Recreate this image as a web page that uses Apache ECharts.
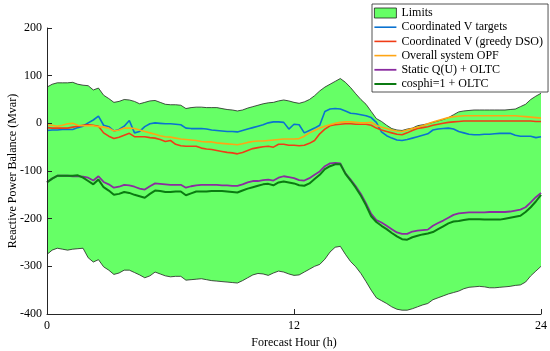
<!DOCTYPE html>
<html>
<head>
<meta charset="utf-8">
<script src="https://cdn.jsdelivr.net/npm/echarts@6/dist/echarts.min.js"></script>
<style>html,body{margin:0;padding:0;background:#fff}#c{width:550px;height:351px}</style>
</head>
<body>
<div id="c"></div>
<script>
// 15-minute sampling grid (hours 0..24)
const hours = Array.from({length: 97}, (_, i) => i * 0.25);

const limitUpper = [76,82,85,85,85,86,82,80,79,70,74,59,52,44,46,50,49,46,41,44,47,48,44,40,39,39,38,31,33,34,34,33,33,33,31,29,28,26,28,32,35,38,41,43,44,47,49,47,44,42,45,50,58,68,76,82,88,94,86,75,62,50,40,25,10,4,-4,-11,-14,-15,-12,-10,-5,-3,-1,2,5,8,12,18,24,26,27,28,28,28,28,28,28,28,29,30,35,40,50,57,63];
const limitLower = [-275,-266,-262,-264,-266,-264,-263,-262,-282,-291,-286,-301,-308,-317,-314,-308,-308,-313,-318,-324,-320,-312,-316,-320,-322,-321,-321,-329,-328,-327,-326,-328,-330,-331,-332,-333,-334,-335,-330,-324,-318,-315,-316,-319,-314,-310,-312,-316,-319,-318,-312,-306,-300,-296,-285,-270,-260,-258,-275,-290,-301,-315,-332,-350,-366,-372,-378,-385,-390,-392,-392,-389,-385,-381,-378,-370,-366,-362,-358,-355,-352,-347,-344,-343,-342,-343,-345,-345,-344,-343,-342,-340,-339,-333,-320,-310,-300];
const coordTargets = [-15,-14,-14,-13,-13,-13,-9,-6,1,7,15,-4,-7,-16,-13,-6,6,-20,-17,-7,-1,1,0,-1,-1,-2,-3,-10,-11,-11,-11,-12,-14,-15,-16,-17,-17,-18,-15,-12,-9,-6,-3,1,3,3,2,-12,-2,-3,-20,-15,-10,-4,25,30,31,30,26,21,20,18,16,12,2,-18,-26,-31,-35,-36,-34,-31,-28,-25,-22,-14,-12,-11,-10,-12,-17,-20,-23,-24,-24,-23,-23,-22,-21,-21,-21,-25,-27,-27,-27,-30,-28];
const coordGreedy = [-9,-10,-10,-10,-10,-8,-6,-4,-3,-4,-6,-20,-27,-32,-29,-25,-21,-28,-28,-28,-30,-31,-34,-38,-36,-44,-47,-48,-48,-48,-52,-54,-55,-57,-59,-61,-62,-64,-61,-57,-53,-51,-49,-48,-50,-44,-44,-46,-46,-47,-46,-42,-36,-22,-12,-5,-3,-2,-1,-1,-2,-2,-2,-4,-10,-14,-17,-20,-23,-24,-20,-15,-11,-9,-7,-4,-2,0,2,3,4,5,5,5,5,5,5,5,5,5,5,5,5,5,5,4,4];
const overallOPF = [-3,-4,-6,-4,-1,0,-4,-5,-5,-5,-7,-8,-10,-16,-14,-10,-10,-11,-14,-17,-20,-23,-26,-28,-29,-31,-33,-34,-35,-36,-38,-39,-39,-41,-42,-43,-44,-45,-43,-40,-38,-37,-37,-36,-35,-34,-33,-33,-33,-32,-27,-20,-15,-10,-6,-3,0,2,3,3,2,1,1,2,-4,-8,-11,-14,-16,-17,-14,-11,-8,-5,-1,3,6,9,12,14,15,16,16,16,16,16,16,16,16,16,16,16,15,14,13,12,11];
const staticQU = [-123,-116,-110,-110,-110,-111,-111,-112,-114,-120,-111,-123,-128,-135,-133,-129,-130,-133,-137,-139,-132,-126,-127,-128,-129,-129,-129,-135,-132,-130,-129,-129,-129,-129,-130,-130,-131,-131,-128,-124,-121,-121,-119,-118,-120,-114,-111,-113,-115,-119,-120,-115,-108,-101,-90,-84,-83,-84,-105,-118,-132,-148,-168,-190,-203,-208,-215,-222,-229,-232,-232,-227,-225,-224,-223,-215,-209,-204,-198,-192,-189,-188,-187,-187,-187,-187,-186,-186,-186,-186,-185,-183,-181,-176,-166,-155,-146];
const cosphi1 = [-124,-116,-110,-110,-110,-110,-109,-114,-121,-128,-118,-134,-141,-150,-148,-144,-146,-150,-153,-156,-148,-141,-142,-144,-144,-143,-143,-151,-147,-143,-143,-143,-142,-142,-142,-143,-144,-145,-141,-137,-134,-131,-128,-127,-130,-124,-122,-124,-126,-130,-131,-126,-117,-108,-96,-90,-86,-86,-106,-120,-135,-152,-172,-195,-207,-215,-222,-230,-237,-243,-244,-239,-236,-233,-231,-228,-222,-216,-210,-206,-205,-203,-201,-201,-201,-202,-202,-202,-202,-200,-198,-196,-194,-186,-176,-164,-150];

const xTicks = [0, 12, 24];
const yTicks = [-400, -300, -200, -100, 0, 100, 200];

const pairs = arr => arr.map((v, i) => [hours[i], v]);

const FONT = 'Liberation Serif';
const AX = '#262626';
const lineIcon = w => 'path://M0,0H22V' + w + 'H0Z';

const lineSeries = (name, data, color, width) => ({
  name, type: 'line', data: pairs(data), symbol: 'none', z: 5,
  lineStyle: {color, width}, itemStyle: {color}
});

const chart = echarts.init(document.getElementById('c'), null, {renderer: 'canvas'});
chart.setOption({
  animation: false,
  backgroundColor: '#fff',
  grid: {left: 47, right: 9, top: 28, bottom: 37, containLabel: false, outerBoundsMode: 'none'},
  xAxis: {
    type: 'value', min: xTicks[0], max: xTicks[xTicks.length - 1], interval: 12, z: 10,
    name: 'Forecast Hour (h)', nameLocation: 'middle', nameGap: 21,
    nameTextStyle: {fontFamily: FONT, fontSize: 12, color: '#000'},
    axisLine: {show: true, onZero: false, lineStyle: {color: AX, width: 1}},
    axisTick: {show: true, inside: true, length: 5, lineStyle: {color: AX}},
    axisLabel: {fontFamily: FONT, fontSize: 12, color: '#000', margin: 6},
    splitLine: {show: false}
  },
  yAxis: {
    type: 'value', min: yTicks[0], max: yTicks[yTicks.length - 1], interval: 100, z: 10,
    name: 'Reactive Power Balance (Mvar)', nameLocation: 'middle', nameGap: 28, nameRotate: 90,
    nameMoveOverlap: false,
    nameTextStyle: {fontFamily: FONT, fontSize: 12, color: '#000'},
    axisLine: {show: true, onZero: false, lineStyle: {color: AX, width: 1}},
    axisTick: {show: true, inside: true, length: 5, lineStyle: {color: AX}},
    axisLabel: {fontFamily: FONT, fontSize: 12, color: '#000', margin: 5},
    splitLine: {show: false}
  },
  legend: {
    orient: 'vertical', left: 372, top: 4, z: 20,
    padding: [3, 5, 2, 2], itemGap: 2.2, itemWidth: 22, itemHeight: 10,
    backgroundColor: '#fff', borderColor: AX, borderWidth: 0.8, borderRadius: 0,
    textStyle: {fontFamily: FONT, fontSize: 12, color: '#000', lineHeight: 12},
    data: [
      {name: 'Limits', icon: 'rect', itemStyle: {color: '#66FF66', borderColor: '#222', borderWidth: 0.8}},
      {name: 'Coordinated V targets', icon: lineIcon(1.6)},
      {name: 'Coordinated V (greedy DSO)', icon: lineIcon(1.6)},
      {name: 'Overall system OPF', icon: lineIcon(1.6)},
      {name: 'Static Q(U) + OLTC', icon: lineIcon(1.8)},
      {name: 'cosphi=1 + OLTC', icon: lineIcon(2)}
    ]
  },
  series: [
    {name: 'Limits', type: 'line', data: pairs(limitUpper), symbol: 'none', z: 2, silent: true,
     lineStyle: {color: '#222', width: 0.8}, itemStyle: {color: '#66FF66'},
     areaStyle: {color: '#66FF66', opacity: 1, origin: 'start'}},
    {name: 'lowerLimit', type: 'line', data: pairs(limitLower), symbol: 'none', z: 3, silent: true,
     lineStyle: {color: '#222', width: 0.8}, itemStyle: {color: '#ffffff'},
     areaStyle: {color: '#ffffff', opacity: 1, origin: 'start'}},
    lineSeries('Coordinated V targets', coordTargets, '#0A72D0', 1.6),
    lineSeries('Coordinated V (greedy DSO)', coordGreedy, '#F03C16', 1.6),
    lineSeries('Overall system OPF', overallOPF, '#FFA514', 1.6),
    lineSeries('Static Q(U) + OLTC', staticQU, '#8A2BA0', 1.8),
    lineSeries('cosphi=1 + OLTC', cosphi1, '#0B7A12', 2)
  ]
});
</script>
</body>
</html>
